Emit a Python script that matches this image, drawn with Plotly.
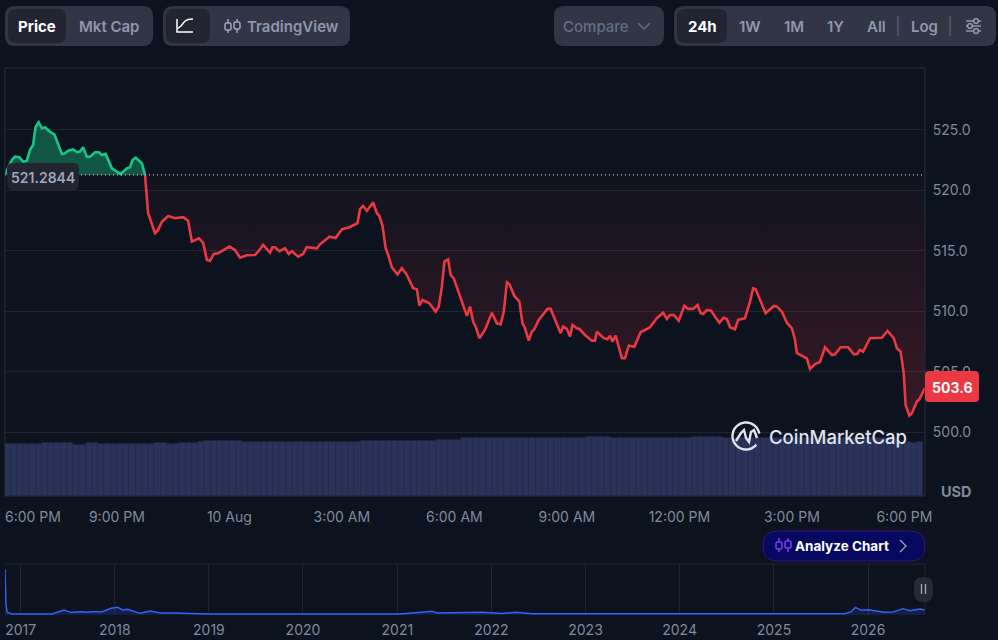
import math

import plotly.graph_objects as go

WIDTH = 998
HEIGHT = 640

BG = "#0c121e"
GRID = "#222531"
FRAME = "#2b2f3d"
TICK = "#808a9d"
BTN = "#323546"
BTN_ON = "#222531"
MUTED = "#a1a7bb"
RED = "#ea3943"
GREEN = "#16c784"
BLUE = "#3861fb"

OPEN_PRICE = 521.2844
LAST_PRICE = "503.6"

# minutes since 6:00 PM
up_minutes = [1, 2, 12, 17, 24, 30, 36, 41, 46, 50, 55, 60, 65, 73, 80, 86, 92, 97, 102, 110, 116, 121, 126,
              132, 137, 145, 151, 156, 162, 172, 177, 186, 196, 201, 205, 210, 220, 224, 225]
up_prices = [521.2844, 521.42, 522.52, 522.79, 522.74, 522.38, 522.46, 523.35, 523.76, 525.27, 525.64, 525.14,
             525.22, 524.86, 524.64, 523.76, 523.02, 523.07, 523.29, 523.40, 523.16, 523.21, 523.57, 522.79,
             522.79, 523.16, 523.16, 522.93, 523.02, 521.83, 521.64, 521.36, 521.83, 521.92, 522.52, 522.71,
             522.25, 521.42, 521.2844]

down_minutes = [225, 228, 230, 241, 246, 252, 262, 273, 286, 294, 300, 311, 318, 324, 329, 335, 342, 360, 369,
                377, 388, 401, 406, 414, 425, 429, 433, 440, 449, 455, 460, 470, 478, 484, 500, 505, 520, 530,
                540, 552, 561, 565, 569, 574, 580, 590, 596, 600, 605, 610, 614, 620, 629, 636, 644, 654, 660,
                664, 669, 680, 690, 695, 700, 704, 710, 714, 719, 740, 745, 750, 754, 760, 769, 780, 788, 794,
                799, 804, 808, 816, 824, 829, 833, 839, 844, 848, 855, 869, 874, 884, 890, 894, 900, 905, 909,
                916, 920, 929, 940, 945, 948, 959, 965, 969, 973, 978, 988, 993, 999, 1008, 1018, 1025, 1033,
                1044, 1054, 1060, 1065, 1071, 1079, 1088, 1094, 1102, 1109, 1114, 1118, 1124, 1131, 1137, 1144,
                1151, 1156, 1161, 1169, 1174, 1185, 1193, 1198, 1202, 1218, 1231, 1236, 1244, 1252, 1260, 1265,
                1268, 1281, 1284, 1289, 1297, 1305, 1313, 1324, 1329, 1338, 1350, 1359, 1364, 1369, 1374, 1385,
                1404, 1413, 1423, 1428, 1434, 1439, 1442, 1448, 1452, 1460, 1464, 1473]
down_prices = [521.2844, 519.49, 518.12, 516.46, 516.74, 517.42, 517.89, 517.70, 517.79, 517.50, 515.77, 516.05,
               515.69, 514.26, 514.17, 514.75, 514.81, 515.36, 515.08, 514.45, 514.64, 514.67, 514.94, 515.50,
               514.86, 515.31, 515.31, 514.98, 515.22, 514.75, 514.98, 514.53, 514.75, 515.31, 515.22, 515.55,
               516.18, 516.07, 516.79, 516.96, 517.23, 517.29, 518.45, 518.72, 518.31, 519.02, 518.12, 517.89,
               517.07, 515.22, 514.67, 513.65, 513.07, 513.57, 513.02, 511.92, 511.83, 510.48, 510.95, 510.68,
               509.98, 510.40, 512.05, 514.12, 514.31, 513.02, 512.74, 509.63, 510.40, 509.16, 508.74, 507.79,
               508.47, 509.90, 509.02, 508.94, 509.98, 512.41, 512.27, 511.28, 510.81, 509.02, 508.61, 507.59,
               508.33, 508.53, 509.30, 510.21, 510.21, 508.88, 508.20, 508.74, 508.55, 507.92, 508.88, 508.61,
               508.55, 508.06, 507.59, 507.59, 508.33, 507.79, 507.70, 508.00, 507.50, 508.00, 506.13, 506.13,
               507.17, 507.09, 508.28, 508.47, 508.69, 509.44, 509.90, 509.38, 509.71, 509.71, 509.24, 510.48,
               510.21, 510.21, 510.54, 509.85, 509.79, 510.12, 510.07, 509.57, 509.07, 509.49, 509.36, 508.69,
               508.53, 509.30, 509.44, 510.81, 511.92, 511.83, 509.85, 510.45, 510.40, 509.98, 509.07, 508.61,
               507.64, 506.55, 506.21, 506.13, 505.25, 505.66, 505.83, 507.04, 506.40, 506.46, 507.04, 507.04,
               506.46, 506.46, 506.82, 506.68, 507.79, 507.83, 508.39, 507.79, 506.96, 506.68, 504.89, 502.27,
               501.39, 501.59, 502.55, 502.74, 503.70]

# one bar per 10 minutes
volume_minutes = list(range(5, 1475, 10))
volumes = [51.7, 51.7, 51.7, 51.7, 51.7, 51.7, 52.7, 52.7, 52.7, 52.7, 52.7, 51.0, 51.0, 52.7, 52.7, 51.7, 51.7,
           52.3, 52.3, 52.3, 52.3, 52.3, 52.3, 52.3, 53.3, 53.3, 52.3, 52.3, 53.3, 53.3, 53.3, 54.0, 55.0, 55.0,
           55.0, 55.0, 55.0, 55.0, 54.0, 54.0, 54.3, 54.3, 54.3, 54.3, 54.3, 54.3, 53.7, 53.7, 53.7, 53.7, 53.7,
           53.7, 53.7, 53.7, 53.7, 53.7, 53.7, 54.7, 54.7, 54.7, 54.7, 54.7, 54.7, 54.7, 54.7, 54.7, 54.7, 54.7,
           54.7, 56.0, 56.0, 56.0, 56.0, 57.7, 57.7, 57.7, 57.7, 57.7, 57.7, 57.7, 57.7, 57.7, 57.7, 57.7, 57.7,
           57.7, 57.7, 57.7, 57.7, 57.7, 57.7, 57.7, 57.7, 59.0, 59.0, 59.0, 59.0, 58.3, 58.3, 58.3, 58.3, 58.3,
           58.3, 58.3, 58.3, 58.3, 58.3, 58.3, 58.3, 58.3, 59.3, 59.3, 59.3, 59.3, 59.3, 58.5, 58.5, 58.5, 58.5,
           58.5, 58.5, 58.5, 58.5, 58.5, 58.5, 58.5, 58.5, 58.5, 58.5, 58.5, 58.5, 58.5, 58.5, 58.5, 58.5, 58.5,
           58.5, 58.5, 58.5, 58.5, 58.5, 58.5, 58.5, 54.3, 54.3, 52.7, 54.0]

price_ticks = [500, 505, 510, 515, 520, 525]
time_ticks = [180, 360, 540, 720, 900, 1080, 1260, 1440]
time_labels = ["9:00 PM", "10 Aug", "3:00 AM", "6:00 AM", "9:00 AM", "12:00 PM", "3:00 PM", "6:00 PM"]

history_dates = ["2016-11-01", "2016-11-05", "2016-11-10", "2016-11-27", "2017-05-02", "2017-05-22", "2017-06-18",
                 "2017-07-14", "2017-08-28", "2017-09-16", "2017-10-01", "2017-11-14", "2017-12-18", "2018-01-12",
                 "2018-02-01", "2018-02-20", "2018-04-09", "2018-05-18", "2018-06-26", "2018-08-16", "2018-12-27",
                 "2021-01-13", "2021-04-13", "2021-05-17", "2021-06-05", "2021-10-01", "2021-11-29", "2022-02-08",
                 "2022-04-08", "2022-06-06", "2025-10-02", "2025-10-28", "2025-11-13", "2025-12-06", "2026-01-01",
                 "2026-03-06", "2026-04-08", "2026-05-17", "2026-06-12", "2026-07-21", "2026-08-10"]
history_prices = [5152, 1120, 302, 112, 112, 302, 560, 302, 370, 302, 370, 370, 750, 862, 560, 638, 190, 448, 224,
                  224, 112, 112, 370, 414, 224, 224, 302, 168, 302, 140, 140, 370, 862, 526, 594, 302, 336, 706,
                  482, 672, 560]
year_ticks = ["2017-01-01", "2018-01-01", "2019-01-01", "2020-01-01", "2021-01-01", "2022-01-01", "2023-01-01",
              "2024-01-01", "2025-01-01", "2026-01-01"]
year_labels = ["2017", "2018", "2019", "2020", "2021", "2022", "2023", "2024", "2025", "2026"]


def fx(x):
    return x / WIDTH


def fy(y):
    return 1 - y / HEIGHT


def path(points, close=False):
    out = "M " + " L ".join(f"{fx(x):.5f},{fy(y):.5f}" for x, y in points)
    return out + (" Z" if close else "")


def round_rect(x0, y0, x1, y1, r, fill, line=None, width=1):
    c = lambda x, y: f"{fx(x):.5f},{fy(y):.5f}"
    d = (f"M {c(x0 + r, y0)} L {c(x1 - r, y0)} Q {c(x1, y0)} {c(x1, y0 + r)} L {c(x1, y1 - r)} "
         f"Q {c(x1, y1)} {c(x1 - r, y1)} L {c(x0 + r, y1)} Q {c(x0, y1)} {c(x0, y1 - r)} "
         f"L {c(x0, y0 + r)} Q {c(x0, y0)} {c(x0 + r, y0)} Z")
    return dict(type="path", xref="paper", yref="paper", path=d, fillcolor=fill,
                line=dict(color=line or fill, width=width if line else 0))


def stroke(points, color, width=1.5, close=False, fill=None):
    return dict(type="path", xref="paper", yref="paper", path=path(points, close),
                fillcolor=fill or "rgba(0,0,0,0)", line=dict(color=color, width=width))


def arc(cx, cy, r, a0, a1, steps=40):
    return [(cx + r * math.cos(math.radians(a0 + (a1 - a0) * i / steps)),
             cy + r * math.sin(math.radians(a0 + (a1 - a0) * i / steps))) for i in range(steps + 1)]


def candles(x, y, color, fill):
    # two small candlesticks, x/y is the top left corner
    out = []
    for dx, top in ((3, 4), (12, 3)):
        out.append(stroke([(x + dx, y), (x + dx, y + 14)], color, 1.5))
        out.append(round_rect(x + dx - 3, y + top, x + dx + 3, y + top + 7, 1.5, fill, color, 1.5))
    return out


def label(x, y, text, size=15, color=MUTED, weight=500, anchor="center"):
    return dict(xref="paper", yref="paper", x=fx(x), y=fy(y), text=text, showarrow=False,
                xanchor=anchor, yanchor="middle",
                font=dict(family="Inter", size=size, color=color, weight=weight))


fig = go.Figure()

# flat line the fills close against
fig.add_trace(go.Scatter(x=[up_minutes[0], up_minutes[-1]], y=[OPEN_PRICE, OPEN_PRICE], mode="lines",
                         line=dict(width=0), hoverinfo="skip"))
fig.add_trace(go.Scatter(x=up_minutes, y=up_prices, mode="lines", fill="tonexty",
                         fillcolor="rgba(22,199,132,0.38)", line=dict(color=GREEN, width=2.6)))
fig.add_trace(go.Scatter(x=[down_minutes[0], down_minutes[-1]], y=[OPEN_PRICE, OPEN_PRICE], mode="lines",
                         line=dict(width=0), hoverinfo="skip"))
fig.add_trace(go.Scatter(x=down_minutes, y=down_prices, mode="lines", fill="tonexty",
                         fillgradient=dict(type="vertical", start=OPEN_PRICE, stop=503,
                                           colorscale=[[0, "rgba(234,57,67,0.02)"], [1, "rgba(234,57,67,0.18)"]]),
                         line=dict(color=RED, width=2.6)))
fig.add_trace(go.Scatter(x=[up_minutes[0], down_minutes[-1]], y=[OPEN_PRICE, OPEN_PRICE], mode="lines",
                         line=dict(color="#c5cbd8", width=1.3, dash="1px,3px"), hoverinfo="skip"))
fig.add_trace(go.Bar(x=volume_minutes, y=volumes, yaxis="y2",
                     marker=dict(color="#2a3359", line=dict(color="#252d4f", width=0.6)),
                     width=10, hoverinfo="skip"))
fig.add_trace(go.Scatter(x=history_dates, y=history_prices, xaxis="x2", yaxis="y3", mode="lines", fill="tozeroy",
                         fillcolor="rgba(56,97,251,0.18)", line=dict(color=BLUE, width=1.4), hoverinfo="skip"))

shapes = [
    stroke([(5, 68), (925, 68)], FRAME, 1),
    stroke([(5, 68), (5, 496)], FRAME, 1),
    stroke([(925, 68), (925, 496)], FRAME, 1),
    stroke([(5, 496), (925, 496)], FRAME, 1),
    stroke([(5, 564), (925, 564)], GRID, 1),
    stroke([(925, 564), (925, 615)], GRID, 1),
    # top buttons
    round_rect(5, 6, 153, 46, 10, BTN),
    round_rect(8, 9, 66, 43, 8, BTN_ON),
    round_rect(163, 6, 350, 46, 10, BTN),
    round_rect(166, 9, 210, 43, 8, BTN_ON),
    stroke([(177, 19), (177, 32), (193, 32)], "#ffffff", 1.5),
    stroke([(177, 29), (181, 26), (185, 21), (188, 19.5), (193, 19)], "#ffffff", 1.5),
    round_rect(554, 6, 664, 46, 10, BTN),
    stroke([(638, 23), (644, 29), (650, 23)], "#616e85", 1.5),
    round_rect(674, 6, 996, 46, 10, BTN),
    round_rect(677, 9, 727, 43, 8, BTN_ON),
    stroke([(898, 16), (898, 36)], "#616e85", 1),
    stroke([(950, 16), (950, 36)], "#616e85", 1),
]
shapes += candles(225, 19, MUTED, BTN)
for y, cx in ((21, 976), (26, 970), (31, 976)):
    shapes.append(stroke([(966, y), (981, y)], MUTED, 1.3))
    shapes.append(round_rect(cx - 2.3, y - 2.3, cx + 2.3, y + 2.3, 2.2, BTN, MUTED, 1.3))

shapes += [
    # open price tag and last price tag
    round_rect(7, 163, 79, 190, 6, BTN_ON),
    round_rect(925, 371, 979, 402, 4, RED),
    # logo
    stroke(arc(746, 436, 13.5, 40, 350), "#dfe4ee", 2.4),
    stroke([(736, 441), (741, 433), (744, 430), (746, 438), (749, 442), (751, 432), (754, 430), (757, 438)],
           "#dfe4ee", 2.4),
    # analyze button
    round_rect(763, 531, 925, 561, 15, "#05085e", "#34147a", 1),
    stroke([(900, 540), (906, 546), (900, 552)], "#9aa3bf", 1.3),
    # mini chart handle
    round_rect(914, 577, 933, 602, 9, "#252a36"),
    stroke([(921.5, 584), (921.5, 594)], MUTED, 1.3),
    stroke([(925.5, 584), (925.5, 594)], MUTED, 1.3),
]
shapes += candles(776, 538, "#7b3ff2", "#05085e")

annotations = [
    label(37, 26, "Price", 15, "#ffffff", 700),
    label(109, 26, "Mkt Cap", 15, "#8f97ae", 600),
    label(293, 26, "TradingView", 15, "#8f97ae", 600),
    label(596, 26, "Compare", 15, "#616e85", 500),
    label(702, 26, "24h", 15, "#ffffff", 700),
    label(750, 26, "1W", 15, "#8f97ae", 600),
    label(794, 26, "1M", 15, "#8f97ae", 600),
    label(835, 26, "1Y", 15, "#8f97ae", 600),
    label(876, 26, "All", 15, "#8f97ae", 600),
    label(924, 26, "Log", 15, "#8f97ae", 600),
    label(43, 177, "521.2844", 14, MUTED, 600),
    label(952, 387, LAST_PRICE, 14, "#ffffff", 700),
    label(956, 491, "USD", 14.5, TICK, 700),
    label(33, 516, "6:00 PM", 14, TICK, 400),
    label(838, 437, "CoinMarketCap", 18.5, "#dfe4ee", 500),
    label(842, 546, "Analyze Chart", 13.5, "#ffffff", 700),
]

fig.update_layout(
    margin=dict(l=0, r=0, t=0, b=0),
    paper_bgcolor=BG,
    plot_bgcolor=BG,
    showlegend=False,
    bargap=0,
    shapes=shapes,
    annotations=annotations,
    xaxis=dict(domain=[fx(5), fx(925)], range=[1, 1473], anchor="y", showgrid=False, zeroline=False, automargin=False,
               tickmode="array", tickvals=time_ticks, ticktext=time_labels, ticks="outside", ticklen=8,
               tickcolor="rgba(0,0,0,0)", tickfont=dict(family="Inter", size=14, color=TICK)),
    yaxis=dict(domain=[fy(496), fy(68)], range=[494.75, 530.12], side="right", anchor="x", zeroline=False,
               automargin=False, tickmode="array", tickvals=price_ticks, tickformat=".1f", gridcolor=GRID,
               gridwidth=1, ticks="outside", ticklen=4, tickcolor="rgba(0,0,0,0)",
               tickfont=dict(family="Inter", size=14, color=TICK)),
    yaxis2=dict(overlaying="y", range=[0, 428], visible=False, automargin=False),
    xaxis2=dict(domain=[fx(5), fx(925)], range=["2016-11-01", "2026-08-10"], type="date", anchor="y3",
                zeroline=False, automargin=False, tickmode="array", tickvals=year_ticks, ticktext=year_labels,
                gridcolor=GRID, ticks="outside", ticklen=2, tickcolor="rgba(0,0,0,0)",
                tickfont=dict(family="Inter", size=14, color=TICK)),
    yaxis3=dict(domain=[fy(615), fy(564)], range=[0, 5712], anchor="x2", visible=False, automargin=False),
)

# the page's default body margin would push the figure off the window
page_fix = ("document.documentElement.style.overflow='hidden';"
            "document.body.style.margin='0';"
            "document.body.style.background='" + BG + "';")
fig.write_html("out.html", config={"displayModeBar": False, "responsive": False},
               default_width=f"{WIDTH}px", default_height=f"{HEIGHT}px", post_script=page_fix)
